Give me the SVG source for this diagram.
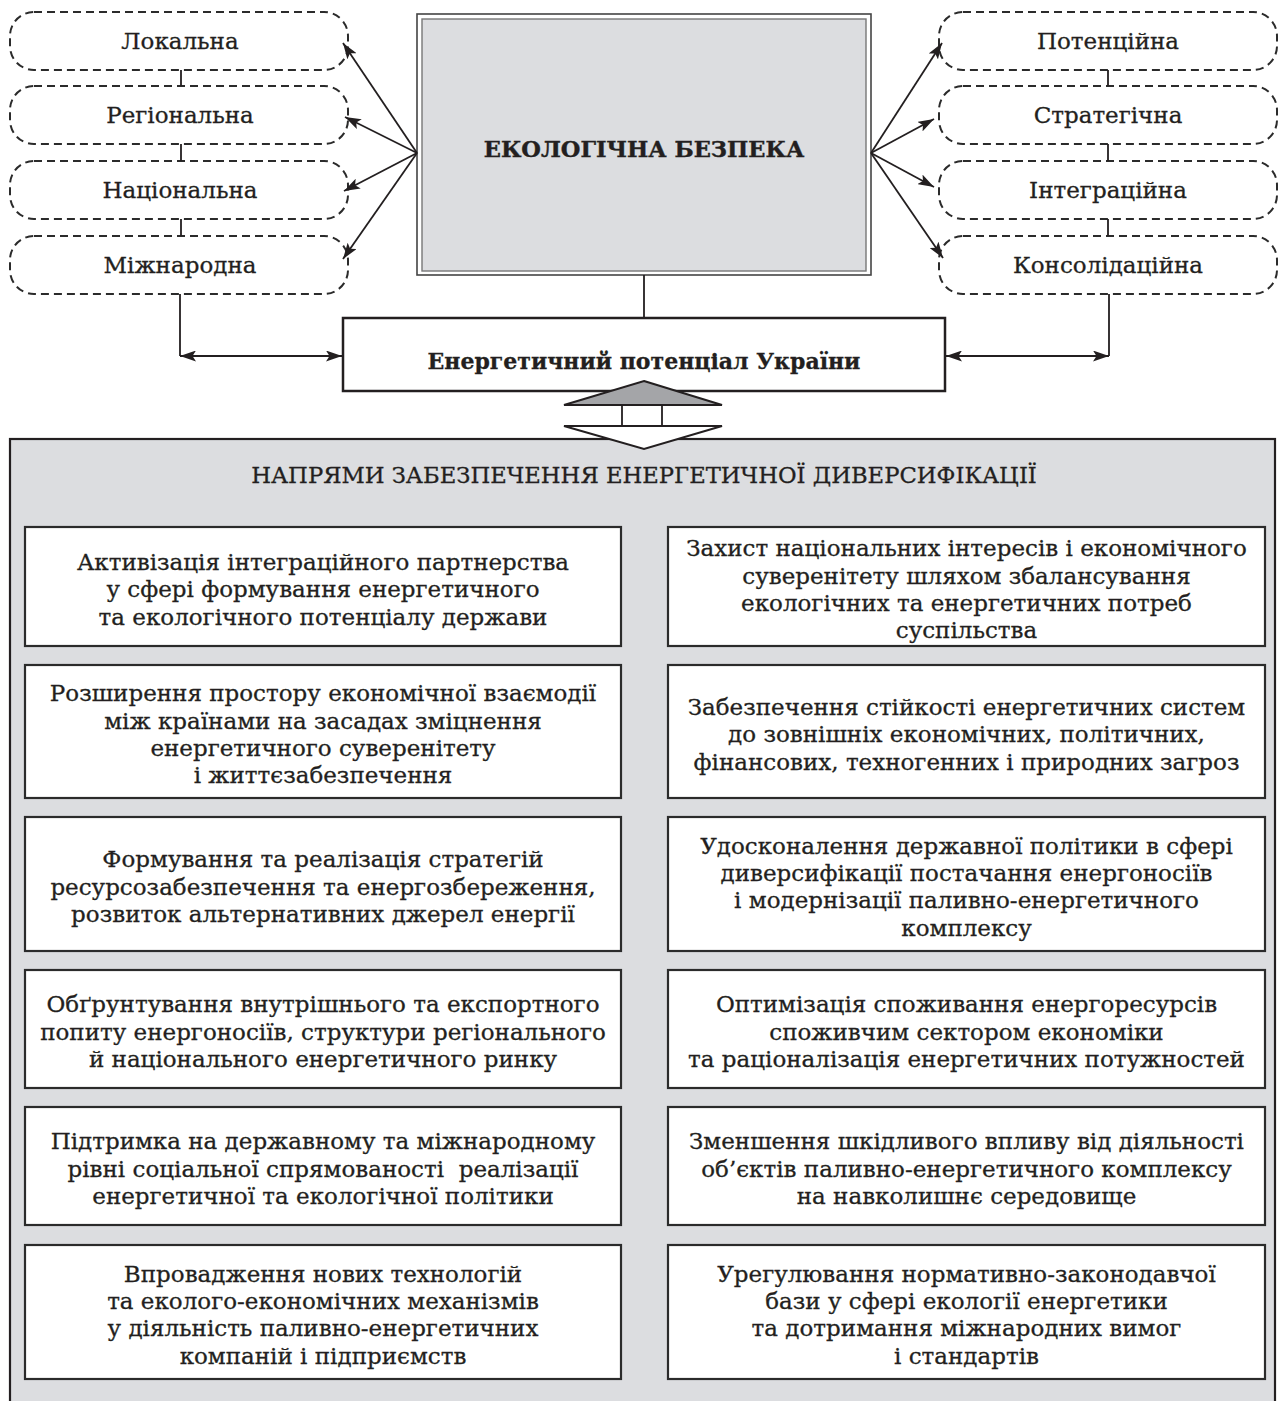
<svg xmlns="http://www.w3.org/2000/svg" width="1282" height="1401" viewBox="0 0 1282 1401">
<style>
.oval{fill:#fff;stroke:#2b2b2b;stroke-width:2;stroke-dasharray:8 5}
.lbl{font-family:"DejaVu Serif","Liberation Serif",serif;font-size:23px;fill:#231f20;stroke:#231f20;stroke-width:0.3;text-anchor:middle}
.body{font-family:"DejaVu Serif","Liberation Serif",serif;font-size:23px;fill:#231f20;stroke:#231f20;stroke-width:0.3;text-anchor:middle}
.box{fill:#fff;stroke:#2b2b2b;stroke-width:2.2}
.ln{fill:none;stroke:#231f20;stroke-width:1.8}
</style>
<defs>
<marker id="ah" viewBox="0 0 16 11" refX="16" refY="5.5" markerWidth="16" markerHeight="11" markerUnits="userSpaceOnUse" orient="auto-start-reverse">
<path d="M0,0 L16,5.5 L0,11 L3.5,5.5 z" fill="#231f20"/>
</marker>
</defs>
<rect width="1282" height="1401" fill="#fff"/>

<g id="left-levels">
<g id="n-local"><rect class="oval" x="10" y="12" width="338" height="58" rx="24"/><text class="lbl" x="180" y="49">Локальна</text></g>
<g id="n-regional"><rect class="oval" x="10" y="86" width="338" height="58" rx="24"/><text class="lbl" x="180" y="123">Регіональна</text></g>
<g id="n-national"><rect class="oval" x="10" y="161" width="338" height="58" rx="24"/><text class="lbl" x="180" y="198">Національна</text></g>
<g id="n-international"><rect class="oval" x="10" y="236" width="338" height="58" rx="24"/><text class="lbl" x="180" y="273">Міжнародна</text></g>
</g>
<g id="right-levels">
<g id="n-potential"><rect class="oval" x="939" y="12" width="338" height="58" rx="24"/><text class="lbl" x="1108" y="49">Потенційна</text></g>
<g id="n-strategic"><rect class="oval" x="939" y="86" width="338" height="58" rx="24"/><text class="lbl" x="1108" y="123">Стратегічна</text></g>
<g id="n-integration"><rect class="oval" x="939" y="161" width="338" height="58" rx="24"/><text class="lbl" x="1108" y="198">Інтеграційна</text></g>
<g id="n-consolidation"><rect class="oval" x="939" y="236" width="338" height="58" rx="24"/><text class="lbl" x="1108" y="273">Консолідаційна</text></g>
</g>

<g id="n-eco">
<rect x="417" y="14" width="454" height="261" fill="#fff" stroke="#444" stroke-width="1.6"/>
<rect x="422" y="19" width="444" height="252" fill="#dcdde0" stroke="#777" stroke-width="1.4"/>
<text x="644" y="157" font-family="DejaVu Serif, Liberation Serif, serif" font-size="22.5" font-weight="bold" fill="#231f20" stroke="#231f20" stroke-width="0.4" text-anchor="middle">ЕКОЛОГІЧНА БЕЗПЕКА</text>
</g>

<g id="connectors">
<line class="ln" x1="181" y1="70" x2="181" y2="86"/>
<line class="ln" x1="181" y1="144" x2="181" y2="161"/>
<line class="ln" x1="181" y1="219" x2="181" y2="236"/>
<line class="ln" x1="1108" y1="70" x2="1108" y2="86"/>
<line class="ln" x1="1108" y1="144" x2="1108" y2="161"/>
<line class="ln" x1="1108" y1="219" x2="1108" y2="236"/>
<line class="ln" x1="417" y1="153" x2="343" y2="43" marker-end="url(#ah)"/>
<line class="ln" x1="417" y1="153" x2="345" y2="117" marker-end="url(#ah)"/>
<line class="ln" x1="417" y1="153" x2="344" y2="191" marker-end="url(#ah)"/>
<line class="ln" x1="417" y1="153" x2="343" y2="259" marker-end="url(#ah)"/>
<line class="ln" x1="871" y1="153" x2="942" y2="43" marker-end="url(#ah)"/>
<line class="ln" x1="871" y1="153" x2="934" y2="119" marker-end="url(#ah)"/>
<line class="ln" x1="871" y1="153" x2="934" y2="187" marker-end="url(#ah)"/>
<line class="ln" x1="871" y1="153" x2="943" y2="258" marker-end="url(#ah)"/>
<line class="ln" x1="644" y1="275" x2="644" y2="318"/>
<line class="ln" x1="180" y1="294" x2="180" y2="356"/>
<line class="ln" x1="180" y1="356" x2="342" y2="356" marker-start="url(#ah)" marker-end="url(#ah)"/>
<line class="ln" x1="1109" y1="294" x2="1109" y2="356"/>
<line class="ln" x1="946" y1="356" x2="1109" y2="356" marker-start="url(#ah)" marker-end="url(#ah)"/>
</g>

<g id="n-energy">
<rect x="343" y="318" width="602" height="73" fill="#fff" stroke="#231f20" stroke-width="2.5"/>
<text x="644" y="369" font-family="DejaVu Serif, Liberation Serif, serif" font-size="22" font-weight="bold" fill="#231f20" stroke="#231f20" stroke-width="0.3" text-anchor="middle">Енергетичний потенціал України</text>
</g>

<g id="panel">
<rect x="10" y="439" width="1265" height="980" fill="#dcdde0" stroke="#231f20" stroke-width="2.2"/>
<text x="644" y="483" font-family="DejaVu Serif, Liberation Serif, serif" font-size="22.7" fill="#231f20" stroke="#231f20" stroke-width="0.3" text-anchor="middle">НАПРЯМИ ЗАБЕЗПЕЧЕННЯ ЕНЕРГЕТИЧНОЇ ДИВЕРСИФІКАЦІЇ</text>
</g>

<g id="double-arrow">
<polygon points="644,381 722,405 564,405" fill="#a4a5a8" stroke="#231f20" stroke-width="2"/>
<line class="ln" x1="622" y1="405" x2="622" y2="426"/>
<line class="ln" x1="662" y1="405" x2="662" y2="426"/>
<polygon points="564,426 722,426 644,449" fill="#fff" stroke="#231f20" stroke-width="2"/>
</g>

<g id="l1"><rect class="box" x="25" y="527" width="596" height="119"/>
<text class="body"><tspan x="323" y="569.5">Активізація інтеграційного партнерства</tspan><tspan x="323" y="597">у сфері формування енергетичного</tspan><tspan x="323" y="624.5">та екологічного потенціалу держави</tspan></text></g>
<g id="l2"><rect class="box" x="25" y="665" width="596" height="133"/>
<text class="body"><tspan x="323" y="701">Розширення простору економічної взаємодії</tspan><tspan x="323" y="728.5">між країнами на засадах зміцнення</tspan><tspan x="323" y="755.5">енергетичного суверенітету</tspan><tspan x="323" y="783">і життєзабезпечення</tspan></text></g>
<g id="l3"><rect class="box" x="25" y="817" width="596" height="134"/>
<text class="body"><tspan x="323" y="867">Формування та реалізація стратегій</tspan><tspan x="323" y="894.5">ресурсозабезпечення та енергозбереження,</tspan><tspan x="323" y="922">розвиток альтернативних джерел енергії</tspan></text></g>
<g id="l4"><rect class="box" x="25" y="970" width="596" height="118"/>
<text class="body"><tspan x="323" y="1012">Обґрунтування внутрішнього та експортного</tspan><tspan x="323" y="1039.5">попиту енергоносіїв, структури регіонального</tspan><tspan x="323" y="1067">й національного енергетичного ринку</tspan></text></g>
<g id="l5"><rect class="box" x="25" y="1107" width="596" height="118"/>
<text class="body" xml:space="preserve"><tspan x="323" y="1149">Підтримка на державному та міжнародному</tspan><tspan x="323" y="1176.5">рівні соціальної спрямованості  реалізації</tspan><tspan x="323" y="1204">енергетичної та екологічної політики</tspan></text></g>
<g id="l6"><rect class="box" x="25" y="1245" width="596" height="134"/>
<text class="body"><tspan x="323" y="1281.5">Впровадження нових технологій</tspan><tspan x="323" y="1309">та еколого-економічних механізмів</tspan><tspan x="323" y="1336">у діяльність паливно-енергетичних</tspan><tspan x="323" y="1363.5">компаній і підприємств</tspan></text></g>

<g id="r1"><rect class="box" x="668" y="527" width="597" height="119"/>
<text class="body"><tspan x="966.5" y="556">Захист національних інтересів і економічного</tspan><tspan x="966.5" y="583.5">суверенітету шляхом збалансування</tspan><tspan x="966.5" y="610.5">екологічних та енергетичних потреб</tspan><tspan x="966.5" y="638">суспільства</tspan></text></g>
<g id="r2"><rect class="box" x="668" y="665" width="597" height="133"/>
<text class="body"><tspan x="966.5" y="714.5">Забезпечення стійкості енергетичних систем</tspan><tspan x="966.5" y="742">до зовнішніх економічних, політичних,</tspan><tspan x="966.5" y="769.5">фінансових, техногенних і природних загроз</tspan></text></g>
<g id="r3"><rect class="box" x="668" y="817" width="597" height="134"/>
<text class="body"><tspan x="966.5" y="853.5">Удосконалення державної політики в сфері</tspan><tspan x="966.5" y="881">диверсифікації постачання енергоносіїв</tspan><tspan x="966.5" y="908">і модернізації паливно-енергетичного</tspan><tspan x="966.5" y="935.5">комплексу</tspan></text></g>
<g id="r4"><rect class="box" x="668" y="970" width="597" height="118"/>
<text class="body"><tspan x="966.5" y="1012">Оптимізація споживання енергоресурсів</tspan><tspan x="966.5" y="1039.5">споживчим сектором економіки</tspan><tspan x="966.5" y="1067">та раціоналізація енергетичних потужностей</tspan></text></g>
<g id="r5"><rect class="box" x="668" y="1107" width="597" height="118"/>
<text class="body"><tspan x="966.5" y="1149">Зменшення шкідливого впливу від діяльності</tspan><tspan x="966.5" y="1176.5">об’єктів паливно-енергетичного комплексу</tspan><tspan x="966.5" y="1204">на навколишнє середовище</tspan></text></g>
<g id="r6"><rect class="box" x="668" y="1245" width="597" height="134"/>
<text class="body"><tspan x="966.5" y="1281.5">Урегулювання нормативно-законодавчої</tspan><tspan x="966.5" y="1309">бази у сфері екології енергетики</tspan><tspan x="966.5" y="1336">та дотримання міжнародних вимог</tspan><tspan x="966.5" y="1363.5">і стандартів</tspan></text></g>
</svg>
